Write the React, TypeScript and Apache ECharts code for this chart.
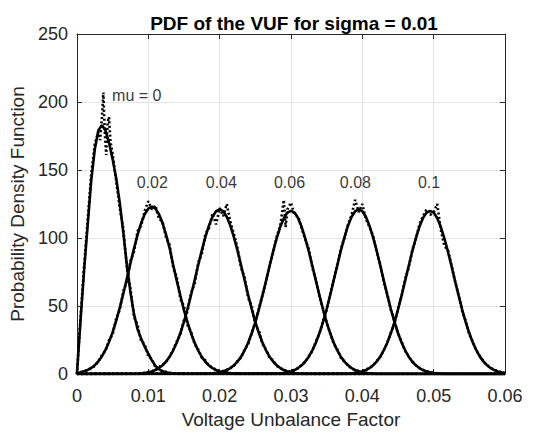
import React, { useEffect, useRef } from "react";
import * as echarts from "echarts";

// x-axis / y-axis ticks
const xTicks = [0, 0.01, 0.02, 0.03, 0.04, 0.05, 0.06];
const yTicks = [0, 50, 100, 150, 200, 250];

// curve labels (data units)
const curveLabelNames = ["mu = 0", "0.02", "0.04", "0.06", "0.08", "0.1"];
const curveLabelX = [0.00838, 0.01056, 0.02024, 0.02979, 0.03903, 0.04935];
const curveLabelY = [205, 141, 141, 141, 141, 141];

// theoretical PDFs (solid)
const fitMu0: number[][] = [
  [0, 0], [0.0005, 39], [0.001, 76], [0.0015, 109], [0.002, 142], [0.0025, 165], [0.003, 179],
  [0.0035, 183], [0.004, 179], [0.0045, 170], [0.005, 158], [0.0055, 144], [0.006, 126],
  [0.0065, 104], [0.007, 80], [0.0075, 60], [0.008, 44], [0.0085, 33], [0.009, 26], [0.0095, 20],
  [0.01, 15], [0.0105, 10], [0.011, 6], [0.0115, 3.5], [0.012, 2], [0.0125, 1.2], [0.013, 0.6],
  [0.014, 0.2], [0.015, 0], [0.06, 0],
];
const fitMu002: number[][] = [
  [0, 0.5], [0.0005, 1.2], [0.001, 2], [0.0015, 3], [0.002, 4.4], [0.0025, 6.5], [0.003, 9.3],
  [0.0035, 12.9], [0.004, 17.7], [0.0045, 23.6], [0.005, 30.6], [0.0055, 39], [0.006, 48.6],
  [0.0065, 59], [0.007, 70.1], [0.0075, 81.4], [0.008, 92.4], [0.0085, 102.3], [0.009, 111],
  [0.0095, 117.5], [0.01, 121.6], [0.0105, 123], [0.011, 121.6], [0.0115, 117.5], [0.012, 111],
  [0.0125, 102.3], [0.013, 92.4], [0.0135, 80], [0.014, 68.5], [0.0145, 57.5], [0.015, 47],
  [0.0155, 38], [0.016, 29.8], [0.0165, 23], [0.017, 17.2], [0.0175, 12.6], [0.018, 9],
  [0.0185, 6.3], [0.019, 4.3], [0.0195, 2.9], [0.02, 1.9], [0.0205, 1.2], [0.021, 0.8],
  [0.022, 0.3], [0.023, 0.1], [0.024, 0], [0.06, 0],
];
const fitMu004: number[][] = [
  [0, 0], [0.008, 0.1], [0.009, 0.3], [0.0095, 0.7], [0.01, 1.2], [0.0105, 1.9], [0.011, 2.9],
  [0.0115, 4.4], [0.012, 6.4], [0.0125, 9.2], [0.013, 12.7], [0.0135, 17.4], [0.014, 23.2],
  [0.0145, 30.1], [0.015, 38.4], [0.0155, 47.8], [0.016, 58.1], [0.0165, 69], [0.017, 80.1],
  [0.0175, 90.9], [0.018, 100.7], [0.0185, 109.1], [0.019, 115.6], [0.0195, 119.7], [0.02, 121],
  [0.0205, 119.7], [0.021, 115.6], [0.0215, 109.1], [0.022, 100.7], [0.0225, 90.9], [0.023, 80.1],
  [0.0235, 69], [0.024, 58.1], [0.0245, 47.8], [0.025, 38.4], [0.0255, 30.1], [0.026, 23.2],
  [0.0265, 17.4], [0.027, 12.7], [0.0275, 9.2], [0.028, 6.4], [0.0285, 4.4], [0.029, 2.9],
  [0.0295, 1.9], [0.03, 1.2], [0.0305, 0.7], [0.031, 0.3], [0.032, 0.1], [0.033, 0], [0.06, 0],
];
const fitMu006: number[][] = [
  [0, 0], [0.018, 0.1], [0.019, 0.3], [0.0195, 0.7], [0.02, 1.2], [0.0205, 1.9], [0.021, 2.9],
  [0.0215, 4.3], [0.022, 6.4], [0.0225, 9.1], [0.023, 12.6], [0.0235, 17.3], [0.024, 23],
  [0.0245, 29.9], [0.025, 38], [0.0255, 47.4], [0.026, 57.6], [0.0265, 68.4], [0.027, 79.4],
  [0.0275, 90.1], [0.028, 99.8], [0.0285, 108.2], [0.029, 114.6], [0.0295, 118.7], [0.03, 120],
  [0.0305, 118.7], [0.031, 114.6], [0.0315, 108.2], [0.032, 99.8], [0.0325, 90.1], [0.033, 79.4],
  [0.0335, 68.4], [0.034, 57.6], [0.0345, 47.4], [0.035, 38], [0.0355, 29.9], [0.036, 23],
  [0.0365, 17.3], [0.037, 12.6], [0.0375, 9.1], [0.038, 6.4], [0.0385, 4.3], [0.039, 2.9],
  [0.0395, 1.9], [0.04, 1.2], [0.0405, 0.7], [0.041, 0.3], [0.042, 0.1], [0.043, 0], [0.06, 0],
];
const fitMu008: number[][] = [
  [0, 0], [0.0275, 0.1], [0.0285, 0.3], [0.029, 0.7], [0.0295, 1.2], [0.03, 1.9], [0.0305, 2.9],
  [0.031, 4.4], [0.0315, 6.4], [0.032, 9.2], [0.0325, 12.7], [0.033, 17.4], [0.0335, 23.2],
  [0.034, 30.1], [0.0345, 38.4], [0.035, 47.8], [0.0355, 58.1], [0.036, 69], [0.0365, 80.1],
  [0.037, 90.9], [0.0375, 100.7], [0.038, 109.1], [0.0385, 115.6], [0.039, 119.7], [0.0395, 121],
  [0.04, 119.7], [0.0405, 115.6], [0.041, 109.1], [0.0415, 100.7], [0.042, 90.9], [0.0425, 80.1],
  [0.043, 69], [0.0435, 58.1], [0.044, 47.8], [0.0445, 38.4], [0.045, 30.1], [0.0455, 23.2],
  [0.046, 17.4], [0.0465, 12.7], [0.047, 9.2], [0.0475, 6.4], [0.048, 4.4], [0.0485, 2.9],
  [0.049, 1.9], [0.0495, 1.2], [0.05, 0.7], [0.0505, 0.3], [0.0515, 0.1], [0.0525, 0], [0.06, 0],
];
const fitMu010: number[][] = [
  [0, 0], [0.0375, 0.1], [0.0385, 0.3], [0.039, 0.7], [0.0395, 1.2], [0.04, 1.9], [0.0405, 2.9],
  [0.041, 4.3], [0.0415, 6.4], [0.042, 9.1], [0.0425, 12.6], [0.043, 17.3], [0.0435, 23],
  [0.044, 29.9], [0.0445, 38], [0.045, 47.4], [0.0455, 57.6], [0.046, 68.4], [0.0465, 79.4],
  [0.047, 90.1], [0.0475, 99.8], [0.048, 108.2], [0.0485, 114.6], [0.049, 118.7], [0.0495, 120],
  [0.05, 118.7], [0.0505, 114.6], [0.051, 108.2], [0.0515, 99.8], [0.052, 90.1], [0.0525, 79.4],
  [0.053, 68.4], [0.0535, 57.6], [0.054, 47.4], [0.0545, 38], [0.055, 29.9], [0.0555, 23],
  [0.056, 17.3], [0.0565, 12.6], [0.057, 9.1], [0.0575, 6.4], [0.058, 4.3], [0.0585, 2.9],
  [0.059, 1.9], [0.0595, 1.2], [0.06, 0.7],
];

// simulated (histogram) PDFs (dotted)
const simMu0: number[][] = [
  [0, 0], [0.0005, 41], [0.001, 79], [0.0015, 113], [0.002, 147], [0.0025, 169], [0.003, 178],
  [0.00325, 172], [0.0035, 188], [0.0037, 207], [0.0039, 178], [0.0041, 161], [0.0043, 185],
  [0.0045, 189], [0.0047, 171], [0.005, 162], [0.0055, 142], [0.006, 122], [0.0065, 107],
  [0.007, 78], [0.0075, 63], [0.008, 42], [0.0085, 36], [0.009, 24], [0.0095, 22], [0.01, 13],
  [0.0105, 11], [0.011, 5], [0.0115, 4], [0.012, 2], [0.013, 1], [0.014, 0], [0.06, 0],
];
const simMu002: number[][] = [
  [0, 0], [0.001, 2], [0.002, 4], [0.0025, 6], [0.003, 9], [0.0035, 14], [0.004, 17], [0.0045, 25],
  [0.005, 29], [0.0055, 41], [0.006, 47], [0.0065, 61], [0.007, 68], [0.0075, 83], [0.008, 90],
  [0.0085, 105], [0.009, 109], [0.0095, 120], [0.01, 127], [0.0105, 121], [0.011, 124],
  [0.0115, 114], [0.012, 112], [0.0125, 100], [0.013, 95], [0.0135, 78], [0.014, 71], [0.0145, 55],
  [0.015, 50], [0.0155, 36], [0.016, 31], [0.0165, 22], [0.017, 18], [0.0175, 12], [0.018, 10],
  [0.0185, 6], [0.019, 5], [0.0195, 3], [0.02, 2], [0.021, 1], [0.022, 0], [0.06, 0],
];
const simMu004: number[][] = [
  [0, 0], [0.009, 0.5], [0.01, 1.5], [0.0105, 2], [0.011, 3], [0.0115, 5], [0.012, 7], [0.0125, 9],
  [0.013, 13], [0.0135, 18], [0.014, 24], [0.0145, 29], [0.015, 40], [0.0155, 46], [0.016, 60],
  [0.0165, 66], [0.017, 82], [0.0175, 88], [0.018, 103], [0.0185, 107], [0.019, 118], [0.0195, 110],
  [0.02, 122], [0.0205, 116], [0.021, 125], [0.0215, 112], [0.022, 103], [0.0225, 93], [0.023, 78],
  [0.0235, 71], [0.024, 56], [0.0245, 50], [0.025, 36], [0.0255, 32], [0.026, 22], [0.0265, 18],
  [0.027, 12], [0.0275, 10], [0.028, 6], [0.0285, 4.5], [0.029, 3], [0.0295, 2], [0.03, 1.2],
  [0.031, 0.5], [0.032, 0], [0.06, 0],
];
const simMu006: number[][] = [
  [0, 0], [0.019, 0.5], [0.02, 1.5], [0.021, 3], [0.0215, 4.5], [0.022, 6], [0.0225, 9.5],
  [0.023, 12], [0.0235, 18], [0.024, 22], [0.0245, 30], [0.025, 38], [0.0255, 48], [0.026, 58],
  [0.0265, 68], [0.027, 80], [0.0275, 89], [0.028, 101], [0.0285, 109], [0.029, 128],
  [0.02925, 108], [0.0295, 121], [0.03, 126], [0.0305, 117], [0.031, 116], [0.0315, 107],
  [0.032, 99], [0.0325, 92], [0.033, 78], [0.0335, 69], [0.034, 57], [0.0345, 48], [0.035, 38],
  [0.0355, 30], [0.036, 22], [0.0365, 18], [0.037, 12], [0.0375, 9], [0.038, 6.5], [0.0385, 4],
  [0.039, 3], [0.04, 1.5], [0.041, 0.5], [0.042, 0], [0.06, 0],
];
const simMu008: number[][] = [
  [0, 0], [0.0285, 0.5], [0.0295, 1.5], [0.0305, 3], [0.031, 4.4], [0.0315, 6.5], [0.032, 9],
  [0.0325, 13], [0.033, 17], [0.0335, 24], [0.034, 30], [0.0345, 39], [0.035, 47], [0.0355, 59],
  [0.036, 70], [0.0365, 79], [0.037, 92], [0.0375, 100], [0.038, 110], [0.0385, 117], [0.039, 128],
  [0.0395, 119], [0.04, 125], [0.0405, 114], [0.041, 108], [0.0415, 102], [0.042, 90], [0.0425, 81],
  [0.043, 68], [0.0435, 59], [0.044, 47], [0.0445, 39], [0.045, 30], [0.0455, 24], [0.046, 17],
  [0.0465, 13], [0.047, 9], [0.0475, 6.5], [0.048, 4.4], [0.0485, 3], [0.0495, 1.2], [0.0505, 0.5],
  [0.0515, 0], [0.06, 0],
];
const simMu010: number[][] = [
  [0, 0], [0.0385, 0.5], [0.0395, 1.5], [0.0405, 3], [0.041, 4.5], [0.0415, 6], [0.042, 9.5],
  [0.0425, 12.5], [0.043, 17.5], [0.0435, 23], [0.044, 30.5], [0.0445, 37], [0.045, 48],
  [0.0455, 57], [0.046, 70], [0.0465, 78], [0.047, 91], [0.0475, 99], [0.048, 110], [0.0485, 116],
  [0.049, 121], [0.0495, 117], [0.05, 119], [0.0505, 125], [0.051, 106], [0.0515, 94], [0.052, 91],
  [0.0525, 80], [0.053, 68], [0.0535, 58], [0.054, 46], [0.0545, 39], [0.055, 29], [0.0555, 23.5],
  [0.056, 17], [0.0565, 13], [0.057, 9], [0.0575, 6.5], [0.058, 4.5], [0.0585, 3], [0.059, 2],
  [0.0595, 1.2], [0.06, 0.7],
];

const fitCurves = [fitMu0, fitMu002, fitMu004, fitMu006, fitMu008, fitMu010];
const simCurves = [simMu0, simMu002, simMu004, simMu006, simMu008, simMu010];

const FONT = "'Liberation Sans', Arial, Helvetica, sans-serif";
const TXT = "#262626";

export default function App() {
  const ref = useRef<HTMLDivElement>(null);
  useEffect(() => {
    if (!ref.current) return;
    const chart = echarts.init(ref.current, undefined, { renderer: "svg" });
    const axisCommon = {
      type: "value" as const,
      axisLine: { show: true, onZero: false, lineStyle: { color: TXT, width: 1 } },
      axisTick: { show: true, inside: true, length: 5, lineStyle: { color: TXT, width: 1 } },
    };
    const series: any[] = [];
    simCurves.forEach((d, i) => {
      series.push({
        type: "line",
        name: "sim" + i,
        data: d,
        showSymbol: false,
        symbol: "none",
        z: 3,
        lineStyle: { color: "#000", width: 2.6, type: [2, 2.4], cap: "butt" },
      });
    });
    fitCurves.forEach((d, i) => {
      series.push({
        type: "line",
        name: "fit" + i,
        data: d,
        showSymbol: false,
        symbol: "none",
        z: 4,
        lineStyle: { color: "#000", width: 2.6 },
      });
    });
    series.push({
      type: "scatter",
      symbolSize: 0,
      z: 5,
      data: curveLabelNames.map((n, i) => ({ name: n, value: [curveLabelX[i], curveLabelY[i]] })),
      label: {
        show: true,
        position: "inside",
        formatter: (p: any) => p.name,
        color: "#000",
        fontSize: 16,
        fontFamily: FONT,
      },
      silent: true,
    });
    chart.setOption({
      animation: false,
      backgroundColor: "#fff",
      title: {
        text: "PDF of the VUF for sigma = 0.01",
        left: 289,
        textAlign: "center",
        top: 9,
        textStyle: { fontFamily: FONT, fontSize: 19, fontWeight: "bold", color: "#000" },
      },
      grid: { left: 73, right: 38, top: 34, bottom: 56.5, containLabel: false },
      xAxis: [
        {
          ...axisCommon,
          position: "bottom",
          min: xTicks[0],
          max: xTicks[xTicks.length - 1],
          interval: 0.01,
          axisLabel: {
            color: TXT,
            fontSize: 18,
            fontFamily: FONT,
            margin: 13,
            formatter: (v: number) => (v === 0 ? "0" : v.toFixed(2)),
          },
          splitLine: { show: true, lineStyle: { color: "#e3e3e3", width: 1 } },
          name: "Voltage Unbalance Factor",
          nameLocation: "middle",
          nameGap: 36,
          nameTextStyle: { color: TXT, fontSize: 19, fontFamily: FONT },
        },
        {
          ...axisCommon,
          position: "top",
          min: xTicks[0],
          max: xTicks[xTicks.length - 1],
          interval: 0.01,
          axisLabel: { show: false },
          splitLine: { show: false },
        },
      ],
      yAxis: [
        {
          ...axisCommon,
          position: "left",
          min: yTicks[0],
          max: yTicks[yTicks.length - 1],
          interval: 50,
          axisLabel: { color: TXT, fontSize: 18, fontFamily: FONT, margin: 9 },
          splitLine: { show: true, lineStyle: { color: "#e3e3e3", width: 1 } },
          name: "Probability Density Function",
          nameLocation: "middle",
          nameGap: 42,
          nameTextStyle: { color: TXT, fontSize: 19, fontFamily: FONT },
        },
        {
          ...axisCommon,
          position: "right",
          min: yTicks[0],
          max: yTicks[yTicks.length - 1],
          interval: 50,
          axisLabel: { show: false },
          splitLine: { show: false },
        },
      ],
      series,
    });
    return () => chart.dispose();
  }, []);
  return (
    <div
      ref={ref}
      style={{ position: "absolute", left: 0, top: 0, width: 543, height: 434 }}
    />
  );
}
